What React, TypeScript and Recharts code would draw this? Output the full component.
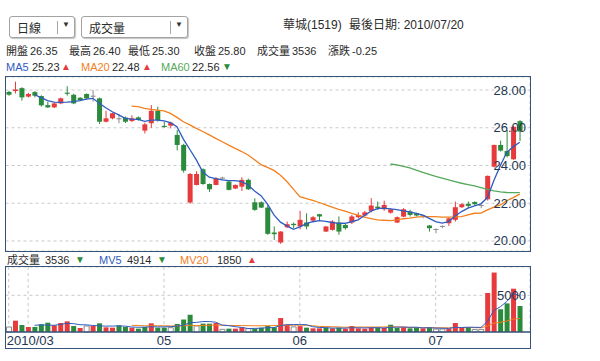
import React from "react";
import { ComposedChart, Bar, Line, XAxis, YAxis, CartesianGrid, Cell } from "recharts";

// daily candles, 2010/03/29 - 2010/07/20
const opens = [
  27.9, 27.95, 28.1, 27.65, 27.89, 27.68, 27.2, 27.08, 27.29, 27.86,
  27.75, 27.59, 27.79, 27.7, 27.56, 26.32, 26.5, 26.5, 26.54, 26.36,
  26.55, 25.85, 26.24, 26.9, 26.1, 26.11, 25.62, 25.09, 22.04, 22.97,
  23.8, 23.02, 22.97, 23.36, 23.15, 22.78, 22.88, 23.24, 22.05, 22.05,
  21.77, 20.45, 19.92, 20.73, 20.91, 20.77, 20.98, 21.08, 21.42, 20.5,
  20.59, 20.98, 20.85, 20.98, 21.26, 21.35, 21.6, 21.82, 21.68, 21.5,
  20.98, 21.29, 21.56, 21.47, 21.38, 20.82, 20.64, 20.8, 20.94, 21.12,
  21.79, 21.97, 22.07, 21.91, 22.21, 23.94, 25.09, 24.77, 24.33, 26.35,
];
const highs = [
  27.95, 28.44, 28.15, 27.85, 27.95, 27.72, 27.38, 27.33, 27.6, 28.2,
  27.8, 27.62, 27.82, 28.0, 27.6, 26.9, 26.8, 26.73, 26.6, 26.66,
  26.6, 26.27, 27.2, 27.12, 26.32, 26.32, 25.88, 25.15, 23.6, 23.7,
  23.85, 23.05, 23.38, 23.4, 23.2, 23.0, 23.38, 23.3, 22.26, 22.1,
  21.9, 20.77, 20.52, 21.03, 20.98, 21.6, 21.47, 21.32, 21.44, 20.8,
  21.1, 21.3, 20.9, 21.38, 21.52, 21.6, 22.27, 22.09, 22.14, 21.73,
  21.3, 21.74, 21.65, 21.5, 21.4, 20.85, 20.66, 20.82, 21.25, 22.09,
  22.0, 22.09, 22.1, 21.93, 23.47, 25.1, 25.32, 25.88, 26.1, 26.4,
];
const lows = [
  27.7, 27.82, 27.44, 27.6, 27.61, 27.12, 27.05, 27.05, 27.25, 27.7,
  27.25, 27.42, 27.5, 27.38, 26.2, 26.28, 26.45, 26.24, 26.25, 26.3,
  26.38, 25.7, 26.0, 26.32, 26.0, 25.97, 24.8, 23.62, 21.98, 22.95,
  22.98, 22.6, 22.95, 23.25, 22.68, 22.75, 22.65, 22.7, 21.6, 21.75,
  20.33, 20.06, 19.85, 20.68, 20.68, 20.62, 20.62, 21.0, 21.08, 20.48,
  20.55, 20.33, 20.6, 20.9, 21.2, 21.3, 21.52, 21.65, 21.6, 21.45,
  20.95, 21.26, 21.3, 21.3, 21.2, 20.5, 20.41, 20.68, 20.8, 21.03,
  21.75, 21.74, 21.9, 21.74, 22.14, 23.9, 24.74, 24.43, 24.3, 25.3,
];
const closes = [
  27.75, 28.03, 27.61, 27.79, 27.7, 27.19, 27.08, 27.29, 27.56, 27.8,
  27.29, 27.47, 27.56, 27.7, 26.32, 26.5, 26.77, 26.5, 26.32, 26.5,
  26.41, 26.18, 26.9, 26.41, 26.04, 26.27, 25.09, 23.73, 23.55, 23.55,
  23.02, 22.74, 23.32, 23.36, 22.71, 22.97, 23.24, 22.74, 21.65, 21.77,
  20.38, 20.36, 20.5, 20.89, 20.84, 21.12, 20.77, 21.26, 21.3, 20.77,
  21.03, 20.5, 20.68, 21.3, 21.38, 21.52, 21.88, 21.73, 21.91, 21.68,
  21.26, 21.68, 21.38, 21.35, 21.38, 20.68, 20.64, 20.8, 21.2, 21.79,
  21.95, 21.86, 21.95, 21.91, 23.45, 25.09, 24.79, 24.5, 26.05, 25.8,
];

const ma5 = [
  null, null, null, null, 27.75, 27.6, 27.44, 27.36, 27.35, 27.36,
  27.38, 27.44, 27.52, 27.56, 27.3, 27.06, 26.85, 26.68, 26.5, 26.46,
  26.45, 26.34, 26.4, 26.41, 26.36, 26.27, 26.06, 25.4, 24.85, 24.3,
  23.65, 23.38, 23.3, 23.24, 23.2, 23.2, 23.15, 22.97, 22.65, 22.4,
  21.95, 21.38, 21.0, 20.8, 20.62, 20.75, 20.92, 21.02, 21.08, 21.04,
  20.98, 20.93, 20.94, 21.02, 21.12, 21.35, 21.58, 21.72, 21.74, 21.7,
  21.66, 21.6, 21.54, 21.46, 21.37, 21.2, 21.03, 20.95, 21.03, 21.33,
  21.56, 21.74, 21.86, 21.97, 22.3, 23.2, 24.0, 24.7, 25.0, 25.23,
];
const ma20 = [
  null, null, null, null, null, null, null, null, null, null,
  null, null, null, null, null, null, null, null, null, 27.15,
  27.12, 27.03, 26.97, 26.94, 26.9, 26.76, 26.55, 26.32, 26.15, 25.97,
  25.8, 25.62, 25.44, 25.26, 25.08, 24.91, 24.74, 24.56, 24.3, 24.05,
  23.9, 23.74, 23.48, 23.15, 22.75, 22.35, 22.25, 22.15, 22.04, 21.91,
  21.8, 21.68, 21.58, 21.47, 21.37, 21.26, 21.19, 21.12, 21.1, 21.08,
  21.12, 21.18, 21.21, 21.27, 21.29, 21.29, 21.29, 21.27, 21.27, 21.28,
  21.29, 21.38, 21.47, 21.48, 21.65, 21.79, 21.91, 22.14, 22.3, 22.48,
];
const ma60 = [
  null, null, null, null, null, null, null, null, null, null,
  null, null, null, null, null, null, null, null, null, null,
  null, null, null, null, null, null, null, null, null, null,
  null, null, null, null, null, null, null, null, null, null,
  null, null, null, null, null, null, null, null, null, null,
  null, null, null, null, null, null, null, null, null, 24.08,
  24.03, 23.95, 23.87, 23.75, 23.64, 23.53, 23.42, 23.33, 23.24, 23.15,
  23.06, 22.99, 22.92, 22.83, 22.74, 22.65, 22.6, 22.57, 22.56, 22.56,
];

// volume (lots) and change vs previous close: 1 up, -1 down, 0 flat
const volumes = [
  680, 1545, 955, 680, 680, 1045, 1270, 910, 1230, 1450,
  820, 545, 820, 820, 1180, 636, 590, 910, 680, 590,
  455, 680, 1180, 590, 590, 590, 1090, 1700, 2350, 820,
  1136, 1136, 1230, 364, 455, 455, 636, 455, 455, 590,
  820, 640, 1900, 1000, 700, 800, 590, 500, 500, 590,
  500, 590, 450, 820, 500, 450, 640, 590, 550, 990,
  550, 640, 500, 590, 500, 680, 400, 400, 450, 1230,
  590, 590, 350, 350, 5318, 8100, 3100, 3900, 5900, 3536,
];
const volChange = [
  0, 1, -1, 1, -1, -1, -1, 1, 1, 1,
  -1, 1, 0, 1, -1, 1, 1, -1, -1, 1,
  -1, -1, 1, -1, -1, 0, -1, -1, -1, 0,
  -1, -1, 1, 0, -1, 1, 1, 0, -1, -1,
  -1, -1, 1, 1, 0, 1, -1, 1, 1, -1,
  1, -1, 1, 1, 1, 1, 1, -1, 1, -1,
  -1, 1, -1, -1, 1, -1, 0, 0, 1, 1,
  1, -1, 0, 0, 1, 1, -1, -1, 1, -1,
];
const mv5 = [
  null, null, null, null, 908, 981, 926, 917, 1027, 1181,
  1136, 991, 973, 891, 837, 800, 809, 827, 799, 681,
  645, 663, 717, 699, 699, 726, 808, 912, 1264, 1310,
  1419, 1428, 1334, 937, 864, 728, 628, 473, 491, 518,
  591, 592, 881, 990, 1012, 1008, 998, 718, 618, 596,
  536, 536, 526, 590, 572, 562, 572, 600, 546, 644,
  664, 664, 646, 654, 556, 582, 534, 514, 486, 632,
  614, 652, 642, 622, 1440, 2942, 3444, 4154, 5264, 4914,
];
const mv20 = [
  null, null, null, null, null, null, null, null, null, null,
  null, null, null, null, null, null, null, null, null, 902,
  891, 847, 859, 854, 850, 827, 818, 857, 913, 882,
  898, 927, 948, 925, 889, 880, 882, 859, 848, 848,
  866, 864, 900, 921, 926, 937, 912, 852, 759, 748,
  716, 689, 650, 672, 675, 674, 675, 681, 686, 706,
  693, 693, 623, 602, 592, 586, 577, 572, 569, 601,
  606, 606, 601, 577, 818, 1200, 1323, 1489, 1756, 1850,
];

const monthTicks = [0, 3, 24, 45, 66];
const monthLabels = ["2010/03", "", "05", "06", "07"];
const priceTicks = [20, 22, 24, 26, 28];
const volTicks = [5000];

const RED = "#e63a3c";
const GREEN = "#2c8a3c";
const GRAY = "#8a8a8a";
const BLUE = "#2f5cc0";
const ORANGE = "#f2801e";
const MA60C = "#55a95a";
const FRAME = "#36537a";
const INK = "#2a2a2a";
const AXIS_INK = "#24364f";
const FONT = '"Liberation Sans", "Noto Sans CJK TC", sans-serif';

const rows = closes.map((c, i) => ({
  i,
  open: opens[i],
  high: highs[i],
  low: lows[i],
  close: c,
  ma5: ma5[i],
  ma20: ma20[i],
  ma60: ma60[i],
  vol: volumes[i],
  chg: volChange[i],
  mv5: mv5[i],
  mv20: mv20[i],
}));

const Candle = (props: any) => {
  const { x, y, width, height, payload } = props;
  const { open, close, high, low } = payload;
  const top = Math.min(y, y + height);
  const h = Math.abs(height);
  const ppu = h / (high - low);
  const cx = x + width / 2;
  const bodyTop = top + (high - Math.max(open, close)) * ppu;
  const bodyBot = top + (high - Math.min(open, close)) * ppu;
  const color = close > open ? RED : close < open ? GREEN : GRAY;
  return (
    <g>
      <line x1={cx} x2={cx} y1={top} y2={top + h} stroke={color} strokeWidth={1} />
      <rect x={x} y={bodyTop} width={width} height={Math.max(bodyBot - bodyTop, 1)} fill={color} />
    </g>
  );
};

// labels sit inside the plot, right-aligned against the frame
const InnerTick = ({ x, y, payload, digits }: any) => (
  <text x={x - 4} y={y} dy={4.5} textAnchor="end" fontSize={13} fontFamily={FONT} fill={AXIS_INK}>
    {digits ? payload.value.toFixed(digits) : payload.value}
  </text>
);

const MonthTick = ({ x, y, payload }: any) => {
  const k = monthTicks.indexOf(payload.value);
  const first = k === 0;
  return (
    <text
      x={first ? x - 2 : x}
      y={y + 13}
      textAnchor={first ? "start" : "middle"}
      fontSize={13}
      fontFamily={FONT}
      fill={AXIS_INK}
    >
      {monthLabels[k]}
    </text>
  );
};

const T = ({ x, y, c = INK, s = 11, children }: any) => (
  <span
    style={{
      position: "absolute",
      left: x,
      top: y - 8,
      lineHeight: "16px",
      fontSize: s,
      color: c,
      whiteSpace: "nowrap",
    }}
  >
    {children}
  </span>
);

const Select = ({ x, w, label, sep }: any) => (
  <div
    style={{
      position: "absolute",
      left: x,
      top: 16,
      width: w,
      height: 22,
      boxSizing: "border-box",
      border: "1px solid #a3a3a3",
      borderRadius: 3,
      boxShadow: "1px 1px 1px #c4c4c4",
      background: "#fff",
    }}
  >
    <span style={{ position: "absolute", left: 7, top: 2, fontSize: 12, color: INK }}>{label}</span>
    <span style={{ position: "absolute", left: sep, top: 4, width: 1, height: 13, background: "#a8a8a8" }} />
    <span style={{ position: "absolute", left: sep + 5, top: 3, fontSize: 8, color: "#333" }}>▼</span>
  </div>
);

export default function App() {
  return (
    <div
      style={{
        position: "absolute",
        left: 0,
        top: 0,
        width: 600,
        height: 361,
        background: "#fff",
        fontFamily: FONT,
        overflow: "hidden",
      }}
    >
      <Select x={9} w={66} label="日線" sep={47} />
      <Select x={81} w={107} label="成交量" sep={88} />
      <T x={283} y={25} s={12}>華城(1519)</T>
      <T x={349} y={25} s={12}>最後日期: 2010/07/20</T>

      <T x={6} y={51}>開盤</T>
      <T x={30} y={51}>26.35</T>
      <T x={69} y={51}>最高</T>
      <T x={93} y={51}>26.40</T>
      <T x={128} y={51}>最低</T>
      <T x={152} y={51}>25.30</T>
      <T x={194} y={51}>收盤</T>
      <T x={218} y={51}>25.80</T>
      <T x={257} y={51}>成交量</T>
      <T x={292} y={51}>3536</T>
      <T x={328} y={51}>漲跌</T>
      <T x={352} y={51}>-0.25</T>

      <T x={6} y={67} c={BLUE}>MA5</T>
      <T x={32} y={67}>25.23</T>
      <T x={61} y={67} c={RED} s={10}>▲</T>
      <T x={81} y={67} c={ORANGE}>MA20</T>
      <T x={112} y={67}>22.48</T>
      <T x={142} y={67} c={RED} s={10}>▲</T>
      <T x={161} y={67} c={MA60C}>MA60</T>
      <T x={192} y={67}>22.56</T>
      <T x={222} y={67} c={GREEN} s={10}>▼</T>

      <T x={7} y={260}>成交量</T>
      <T x={45} y={260}>3536</T>
      <T x={75} y={260} c={GREEN} s={10}>▼</T>
      <T x={99} y={260} c={BLUE}>MV5</T>
      <T x={127} y={260}>4914</T>
      <T x={157} y={260} c={GREEN} s={10}>▼</T>
      <T x={180} y={260} c={ORANGE}>MV20</T>
      <T x={217} y={260}>1850</T>
      <T x={247} y={260} c={RED} s={10}>▲</T>

      <div style={{ position: "absolute", left: 0, top: 77 }}>
        <ComposedChart width={600} height={174} data={rows} margin={{ top: 0, right: 0, bottom: 0, left: 5.5 }}>
          <CartesianGrid stroke="#c9c9c9" strokeDasharray="3 3" />
          <XAxis
            dataKey="i"
            type="category"
            ticks={monthTicks}
            tick={false}
            axisLine={false}
            tickLine={false}
            height={0}
            padding={{ left: 0, right: 7 }}
          />
          <YAxis
            orientation="right"
            width={70}
            domain={[19.47, 28.69]}
            ticks={priceTicks}
            axisLine={false}
            tickLine={false}
            tickSize={0}
            tickMargin={0}
            tick={<InnerTick digits={2} />}
          />
          <Bar dataKey={(d: any) => [d.low, d.high]} barSize={5} shape={Candle} isAnimationActive={false} />
          <Line dataKey="ma20" stroke={ORANGE} strokeWidth={1.3} dot={false} isAnimationActive={false} />
          <Line dataKey="ma60" stroke={MA60C} strokeWidth={1.3} dot={false} isAnimationActive={false} />
          <Line dataKey="ma5" stroke={BLUE} strokeWidth={1.3} dot={false} isAnimationActive={false} />
        </ComposedChart>
      </div>

      <div style={{ position: "absolute", left: 0, top: 267 }}>
        <ComposedChart width={600} height={81} data={rows} margin={{ top: 0, right: 0, bottom: 0, left: 5.5 }}>
          <CartesianGrid stroke="#c9c9c9" strokeDasharray="3 3" />
          <XAxis
            dataKey="i"
            type="category"
            ticks={monthTicks}
            tick={<MonthTick />}
            interval={0}
            axisLine={{ stroke: FRAME, strokeWidth: 1.5 }}
            tickLine={false}
            tickSize={0}
            tickMargin={0}
            height={16}
            padding={{ left: 0, right: 7 }}
          />
          <YAxis
            orientation="right"
            width={70}
            domain={[0, 8856]}
            ticks={volTicks}
            axisLine={false}
            tickLine={false}
            tickSize={0}
            tickMargin={0}
            tick={<InnerTick />}
          />
          <Bar dataKey="vol" barSize={5} isAnimationActive={false}>
            {rows.map((r) => (
              <Cell
                key={r.i}
                fill={r.chg > 0 ? RED : r.chg < 0 ? GREEN : "#fff"}
                stroke={r.chg === 0 ? "#8a8a8a" : "none"}
              />
            ))}
          </Bar>
          <Line dataKey="mv20" stroke={ORANGE} strokeWidth={1} dot={false} isAnimationActive={false} />
          <Line dataKey="mv5" stroke={BLUE} strokeWidth={1} dot={false} isAnimationActive={false} />
        </ComposedChart>
      </div>

      <div
        style={{
          position: "absolute",
          left: 5,
          top: 76,
          width: 526,
          height: 176,
          boxSizing: "border-box",
          border: `1.5px solid ${FRAME}`,
          pointerEvents: "none",
        }}
      />
      <div
        style={{
          position: "absolute",
          left: 5,
          top: 266,
          width: 526,
          height: 83,
          boxSizing: "border-box",
          border: `1.5px solid ${FRAME}`,
          pointerEvents: "none",
        }}
      />
    </div>
  );
}
